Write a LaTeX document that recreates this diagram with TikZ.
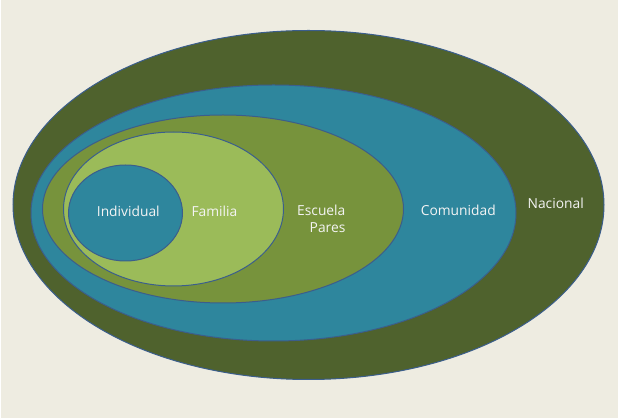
\documentclass[tikz,border=0pt]{standalone}
\usepackage{fontspec}
\setmainfont{Open Sans}
\definecolor{bg}{HTML}{EEECE1}
\definecolor{nac}{HTML}{4F622D}
\definecolor{teal}{HTML}{2E869D}
\definecolor{olive}{HTML}{77933C}
\definecolor{lgreen}{HTML}{9BBB59}
\definecolor{edge}{HTML}{3B5E8C}
\definecolor{txt}{HTML}{F4F4F4}
\tikzset{
  ring/.style={draw=edge, line width=1pt},
  lbl/.style={text=txt, font=\fontsize{13.8}{16.6}\selectfont, anchor=base, inner sep=0pt},
}
\begin{document}
\begin{tikzpicture}[x=1pt,y=-1pt]
\fill[white] (0,0) rectangle (619,419);
\fill[bg] (1,0) rectangle (618,418);
\useasboundingbox (0,0) rectangle (619,419);
\filldraw[ring, fill=nac] (308.5,205) ellipse [x radius=295.5, y radius=174.5];
\filldraw[ring, fill=teal] (273.5,213) ellipse [x radius=242.5, y radius=128];
\filldraw[ring, fill=olive] (223,209) ellipse [x radius=180.5, y radius=94];
\filldraw[ring, fill=lgreen] (173.5,209) ellipse [x radius=110, y radius=77];
\filldraw[ring, fill=teal] (125.5,213) ellipse [x radius=57, y radius=48];
\node[lbl] (ind) at (128.3,216.7) {Individual};
\node[lbl] (fam) at (214.5,216.7) {Familia};
\node[lbl, align=right] (esc) at (321.3,232.3) {Escuela\\Pares};
\node[lbl] (com) at (458.3,215.3) {Comunidad};
\node[lbl] (nac) at (555.7,209) {Nacional};
\end{tikzpicture}
\end{document}
